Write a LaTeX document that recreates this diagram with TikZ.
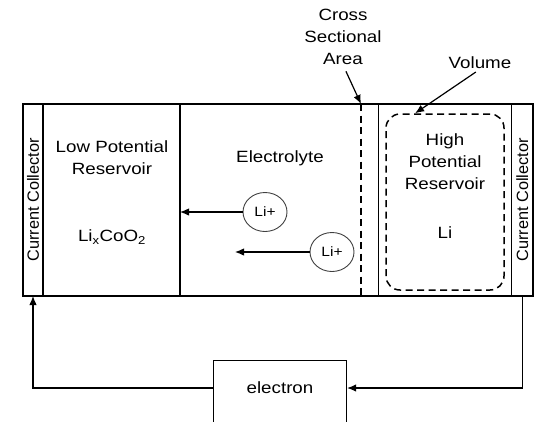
\documentclass[tikz,border=0pt]{standalone}
\usepackage{fontspec}
\setmainfont[FakeStretch=1.15]{Liberation Sans}
\newfontfamily\plainsans{Liberation Sans}
\usepackage{xcolor}
\usetikzlibrary{shapes,arrows,arrows.meta,positioning,fit,calc}

\begin{document}
\begin{tikzpicture}[
        x=1pt, y=-1pt,
        every node/.style={font=\fontsize{16.3}{22}\selectfont},
        cell/.style={rectangle, draw, inner sep=0pt, outer sep=0pt, minimum height=192pt, line width=1.7pt},
        label/.style={align=center, inner sep=0pt},
        ion/.style={ellipse, draw=black!75, line width=0.9pt, minimum width=44pt, minimum height=39pt, inner sep=0pt, font=\fontsize{13.5}{16}\selectfont},
        volbox/.style={rectangle, draw, dash pattern=on 7pt off 4.5pt, rounded corners=14pt, line width=1.5pt, minimum width=118pt, minimum height=176pt},
        dashline/.style={draw, dash pattern=on 7pt off 4.5pt, line width=1.5pt},
        ebox/.style={rectangle, draw, minimum width=133pt, minimum height=62pt, line width=1.2pt},
        line/.style={draw, -{Latex[length=9pt,width=7.5pt]}, line width=1.2pt}
    ]
    \useasboundingbox (0,0) rectangle (537,421);

    % Cell regions
    \node [cell, anchor=north west, minimum width=20.6pt] (leftcc) at (22.7,104) {};
    \node [cell, right=0pt of leftcc, minimum width=136.7pt] (lowres) {};
    \node [cell, right=0pt of lowres, minimum width=198.5pt] (electrolyte) {};
    \node [cell, right=0pt of electrolyte, minimum width=133pt] (highres) {};
    \node [cell, right=0pt of highres, minimum width=21.5pt] (rightcc) {};

    % Texts in the cell
    \node [rotate=90, inner sep=0pt] (lefttxt) at (leftcc) {\plainsans Current Collector};
    \node [rotate=90, inner sep=0pt] (righttxt) at (rightcc) {\plainsans Current Collector};
    \node [label] (lowtxt) at (112,158) {Low Potential\\Reservoir};
    \node [label] (lixtxt) at (112,237) {Li\textsubscript{x}CoO\textsubscript{2}};
    \node [label] (electxt) at (280,158) {Electrolyte};
    \node [label] (hightxt) at (445,162) {High\\Potential\\Reservoir};
    \node [label] (litxt) at (445,233) {Li};

    % Ions
    \node [ion] (ion1) at (265,212) {Li+};
    \node [ion] (ion2) at (332,252) {Li+};
    \coordinate (ion2end) at (235,252);
    \path [line] (ion1) -- (ion1 -| electrolyte.west);
    \path [line] (ion2) -- (ion2end);

    % Cross section and volume
    \coordinate (areatop) at (361,104);
    \coordinate (areabot) at (361,296);
    \path [dashline] (areatop) -- (areabot);
    \node [volbox] (volume) at (445,202) {};

    \node [label] (areatxt) at (343,37) {Cross\\Sectional\\Area};
    \node [label] (voltxt) at (480,63) {Volume};
    \path [line, shorten <=7pt] (areatxt.south) -- (areatop);
    \path [line, shorten <=5pt] (voltxt.south) -- ($(volume.north west)!0.25!(volume.north east)$);

    % Electron loop
    \node [ebox, anchor=north] (electron) at (280,360) {};
    \node [label] (etxt) at (280,388) {electron};
    \path [line] (etxt -| electron.west) -| (leftcc.south);
    \path [line] (rightcc.south) |- (etxt -| electron.east);

\end{tikzpicture}
\end{document}
